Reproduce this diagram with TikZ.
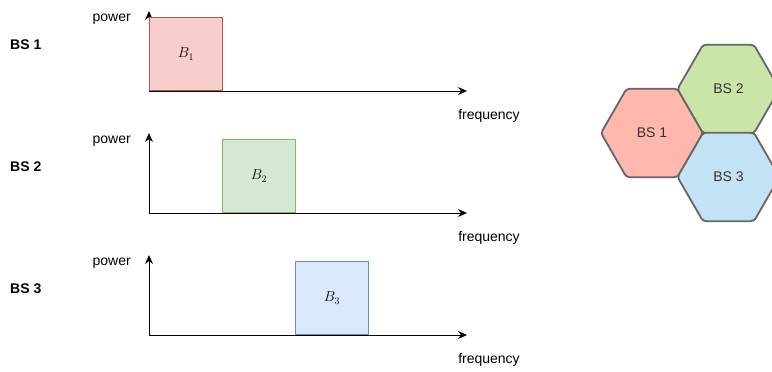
\documentclass[tikz,border=0pt]{standalone}
\usepackage{fontspec}
\setmainfont{Liberation Sans}
\usetikzlibrary{shapes.geometric,arrows.meta}
\definecolor{redfill}{HTML}{F8CECC}\definecolor{redline}{HTML}{B85450}
\definecolor{greenfill}{HTML}{D5E8D4}\definecolor{greenline}{HTML}{82B366}
\definecolor{bluefill}{HTML}{DAE8FC}\definecolor{blueline}{HTML}{6C8EBF}
\definecolor{hexred}{HTML}{FFB7AE}\definecolor{hexgreen}{HTML}{C9E6A8}
\definecolor{hexblue}{HTML}{C3E3F5}\definecolor{hexline}{HTML}{666666}
\definecolor{hextext}{HTML}{333333}
\tikzset{
  axis/.style={line width=1pt,-{Stealth[length=9pt,width=8pt]}},
  band/.style={draw,line width=0.8pt,minimum width=73pt,minimum height=73pt,inner sep=0pt,
    anchor=south west,font=\fontsize{14}{16}\selectfont},
  lbl/.style={font=\fontsize{14}{16}\selectfont,inner sep=0pt},
  bslbl/.style={font=\fontsize{14}{16}\selectfont\bfseries,inner sep=0pt},
  cell/.style={regular polygon,regular polygon sides=6,minimum size=102pt,inner sep=0pt,
    draw=hexline,line width=1.8pt,rounded corners=3pt,text=hextext,font=\fontsize{14}{16}\selectfont}
}
\begin{document}
\begin{tikzpicture}[x=1pt,y=-1pt]
\useasboundingbox (0,0) rectangle (772,372);
% three spectrum panels: axes first, then the band on top
\foreach \i/\y/\bx/\fc/\lc in {1/91/149/redfill/redline,2/213/222/greenfill/greenline,3/335/295/bluefill/blueline}{
  \coordinate (o\i) at (149,\y);
  \coordinate (top\i) at (149,\y-80);
  \coordinate (right\i) at (467,\y);
  \draw[axis] (o\i) -- (top\i);
  \draw[axis] (o\i) -- (right\i);
  \node[band,fill=\fc,draw=\lc] (b\i) at (\bx,\y) {$B_{\i}$};
  \node[lbl,anchor=east] (pw\i) at (131,\y-72) {power};
  \node[lbl] (fq\i) at (489,\y+25) {frequency};
  \node[bslbl,anchor=west] (bs\i) at (10,\y-46) {BS \i};
}
% cell layout
\node[cell,fill=hexred] (c1) at (652,133) {BS 1};
\node[cell,fill=hexgreen] (c2) at (728.5,89) {BS 2};
\node[cell,fill=hexblue] (c3) at (728.5,177) {BS 3};
\end{tikzpicture}
\end{document}
